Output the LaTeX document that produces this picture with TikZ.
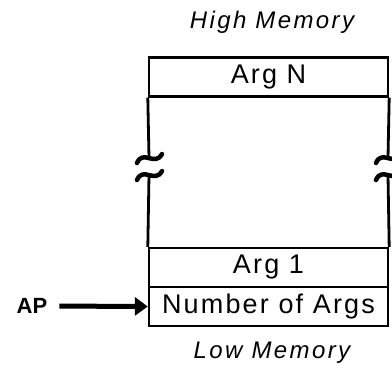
\documentclass[tikz,border=0pt]{standalone}
\usepackage{fontspec}
\setmainfont{Liberation Sans}
\newfontfamily\lblfont[LetterSpace=8]{Liberation Sans}
\newfontfamily\memfont[LetterSpace=10]{Liberation Sans}
\usetikzlibrary{arrows.meta}
\begin{document}
\begin{tikzpicture}[x=1pt,y=-1pt,
  cell/.style={draw,line width=2.4pt,minimum width=239pt,minimum height=39pt,inner sep=0pt,
    font=\lblfont\fontsize{27}{30}\selectfont},
  mem/.style={inner sep=0pt,font=\memfont\itshape\fontsize{24}{28}\selectfont},
  side/.style={line width=2.8pt},
  brk/.style={line width=4.5pt,line cap=round},
  ptr/.style={line width=5pt,-{Triangle[length=13pt,width=18pt]},shorten <=12pt}]
\useasboundingbox (0,0) rectangle (392,376);
\node[mem] (hi) at (272,22) {High Memory};
\node[cell] (argN) at (268.5,77) {Arg N};
\node[cell] (arg1) at (268.5,267.5) {Arg 1};
\node[cell] (nargs) at (268.5,306.5) {Number of Args};
\node[mem] (lo) at (272,353) {Low Memory};
\node[inner sep=0pt,font=\bfseries\fontsize{22}{26}\selectfont] (ap) at (32,306) {AP};
% break points
\coordinate (lu) at (149,158);
\coordinate (ll) at (149,175);
\coordinate (ru) at (388,158);
\coordinate (rl) at (388,175);
\draw[side] (argN.south west) -- (lu);
\draw[side] (ll) -- (arg1.north west);
\draw[side] (argN.south east) -- (ru);
\draw[side] (rl) -- (arg1.north east);
\draw[brk] ([shift={(-12,5)}]lu) .. controls ([shift={(-6,-9)}]lu) and ([shift={(6,9)}]lu) .. ([shift={(13,-4)}]lu);
\draw[brk] ([shift={(-12,5)}]ll) .. controls ([shift={(-6,-9)}]ll) and ([shift={(6,9)}]ll) .. ([shift={(13,-4)}]ll);
\draw[brk] ([shift={(-12,5)}]ru) .. controls ([shift={(-6,-9)}]ru) and ([shift={(6,9)}]ru) .. ([shift={(13,-4)}]ru);
\draw[brk] ([shift={(-12,5)}]rl) .. controls ([shift={(-6,-9)}]rl) and ([shift={(6,9)}]rl) .. ([shift={(13,-4)}]rl);
\draw[ptr] (ap.east) -- (nargs.west);
\end{tikzpicture}
\end{document}
